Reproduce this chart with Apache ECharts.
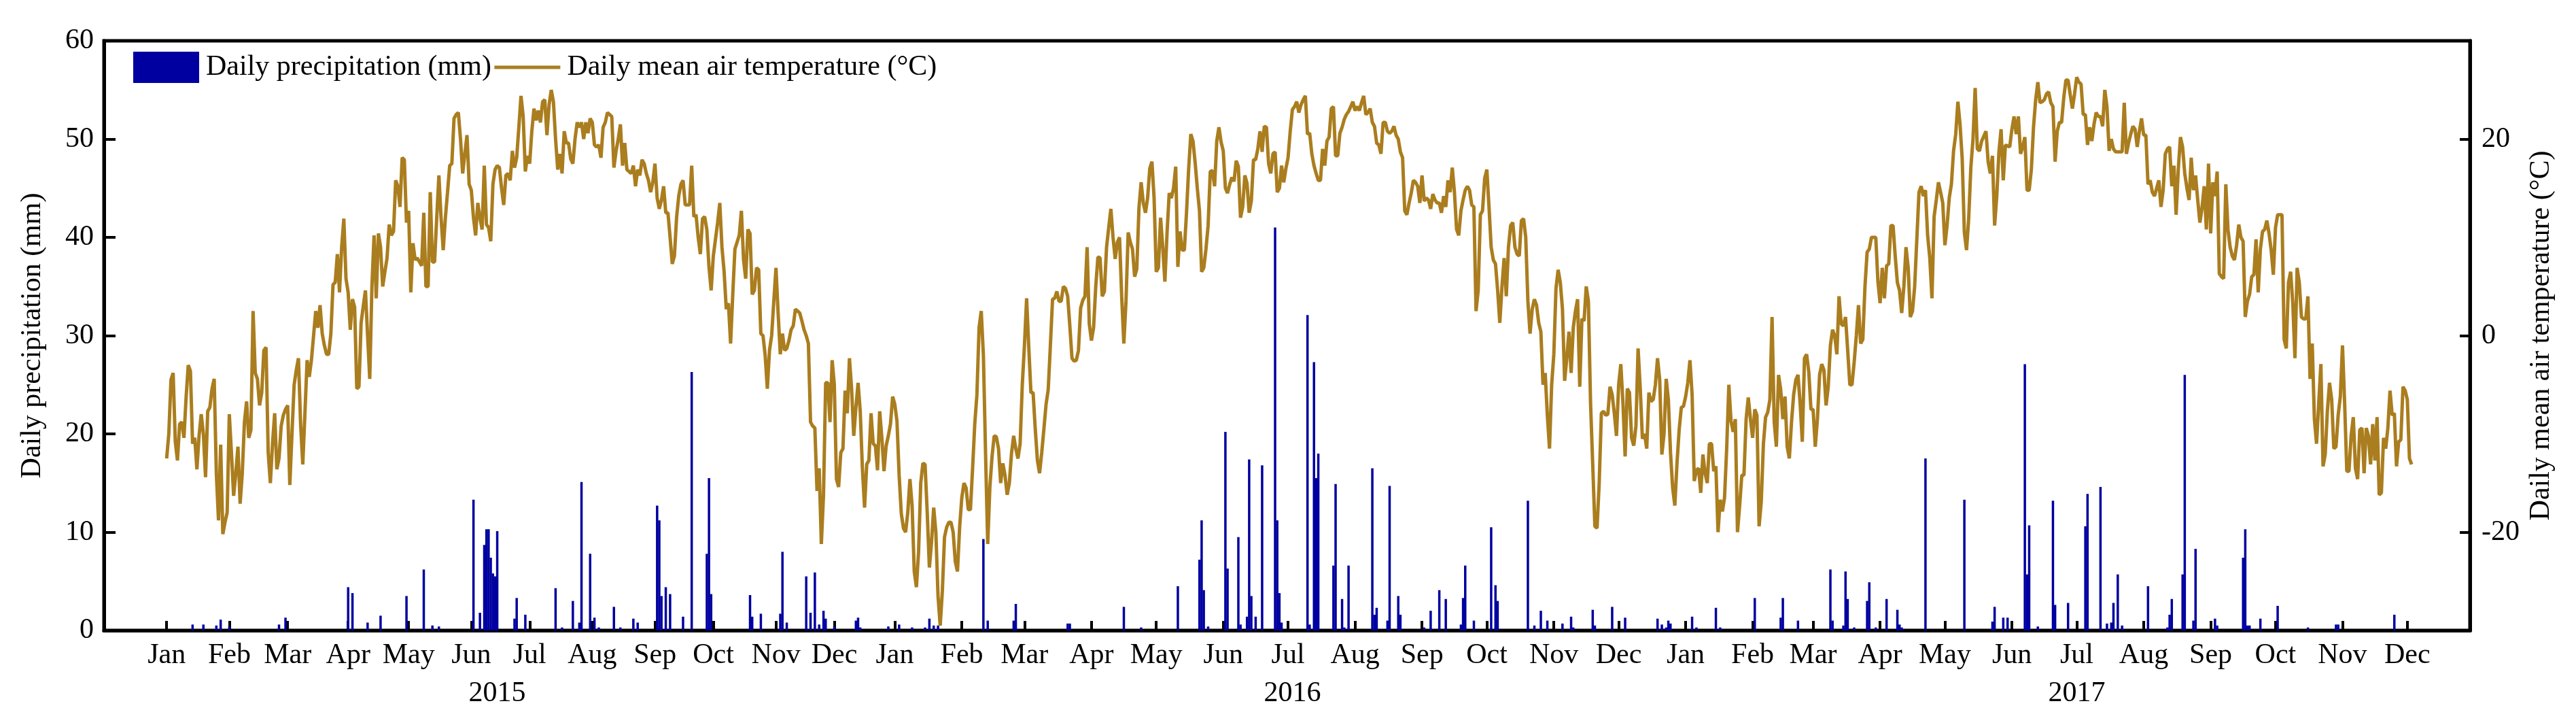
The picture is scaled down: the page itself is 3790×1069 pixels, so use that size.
<!DOCTYPE html>
<html>
<head>
<meta charset="utf-8">
<title>Daily precipitation and air temperature</title>
<script src="https://cdn.jsdelivr.net/npm/echarts@6/dist/echarts.min.js"></script>
<style>
    html, body { margin: 0; padding: 0; background: #fff; }
    #chart { width: 3790px; height: 1069px; }
</style>
</head>
<body>
<div id="chart"></div>
<script>
// observations per month (2015 record has gaps, 2017 stops early in Dec)
const monthNames = ['Jan', 'Feb', 'Mar', 'Apr', 'May', 'Jun', 'Jul', 'Aug', 'Sep', 'Oct', 'Nov', 'Dec'];
const obsPerMonth2015 = [29, 27, 28, 28, 29, 27, 29, 29, 27, 29, 27, 28];
const obsPerMonth2016 = [31, 29, 31, 30, 31, 30, 31, 31, 30, 31, 30, 31];
const obsPerMonth2017 = [31, 28, 31, 30, 31, 30, 31, 31, 30, 31, 30, 3];

const yearNames = ['2015', '2016', '2017'];
const yearLabelAt = [153, 521, 884];

// daily mean air temperature (°C), one value per observation
const tempC = [
    -12.5, -10, -4.5, -3.8, -10.8, -12.7, -9, -8.8, -10.4, -6.3,
    -3, -3.6, -11, -10.4, -13.6, -10.2, -8, -10, -14.4, -7.7,
    -7.3, -5.4, -4.4, -14, -18.8, -11.1, -20.2, -19, -18, -8,
    -12, -16.3, -14, -11.3, -17.1, -14, -8.8, -6.7, -10.4, -9.6,
    2.5, -3.8, -4.4, -7.1, -5.8, -1.5, -1.2, -11.9, -15, -11,
    -7.9, -13.6, -12.5, -9.2, -8.1, -7.5, -7.1, -15.2, -10, -5,
    -3.5, -2.3, -9, -13.1, -7.9, -2.5, -4.2, -2.5, 0, 2.5,
    0.8, 3.1, 0.2, -1, -1.9, -1.9, 0.2, 5.2, 5.4, 8.3,
    4.4, 9, 11.9, 5.8, 4.4, 0.6, 3.7, 2.9, -5.4, -5.2,
    1.3, 3, 4.6, 0, -4.4, 5, 10.2, 3.8, 10.4, 9,
    5, 6.5, 7.9, 11.3, 10.2, 10.6, 15.8, 15.2, 13.1, 18.1,
    17.9, 11.5, 12.7, 4.4, 9.4, 7.7, 7.9, 7.5, 7.1, 12.5,
    5, 5, 14.6, 7.5, 7.5, 12, 16.3, 12, 8.7, 12,
    14.6, 17.3, 17.5, 22.1, 22.5, 22.7, 20, 16.5, 18.5, 20.4,
    15.4, 14.8, 12, 10.2, 13.5, 12, 10.8, 17.3, 11.3, 11,
    9.6, 15.4, 16.9, 17.3, 17.1, 15, 13.3, 16.3, 16.5, 15.8,
    18.8, 17.1, 18.1, 21.2, 24.4, 22.3, 16.7, 18.3, 17.5, 20.8,
    23.1, 21.9, 22.9, 21.7, 23.8, 24, 20.4, 23.5, 25, 23.8,
    20, 16.9, 18.5, 16.5, 20.8, 19.6, 19.6, 18, 17.5, 20,
    21.7, 21.2, 21.7, 20, 21.7, 20.6, 22.1, 21.7, 19.4, 19.2,
    19.4, 18.1, 21.2, 21.7, 22.7, 22.5, 22.3, 17.1, 18.8, 20,
    21.5, 17.3, 19.6, 16.9, 16.7, 16.5, 17.3, 15.2, 16.9, 16.3,
    17.9, 17.5, 16.5, 15.8, 14.6, 15.6, 17.5, 14, 12.9, 13.8,
    15.2, 12.5, 12.5, 10, 7.3, 8.1, 12, 14.2, 15.4, 15.8,
    13.3, 13.3, 13.3, 17.3, 12.1, 12.3, 10, 8.3, 11.9, 12.1,
    10.8, 7, 4.6, 8.1, 9.8, 11.5, 13.5, 9, 6.5, 2.7,
    3.3, -0.8, 4.2, 8.8, 9.5, 10.2, 12.7, 7.7, 5.8, 10.8,
    10.4, 4.2, 4.6, 6.9, 6.7, 0.2, 0, -2, -5.4, -1.5,
    0, 3.5, 6.9, 2.3, -1.9, 0.2, -1.5, -1.3, -0.5, 0.6,
    1, 2.7, 2.5, 2.3, 1.5, 0.6, 0, -0.8, -8.8, -9.2,
    -9.4, -15.8, -13.5, -21.2, -16.2, -4.8, -4.8, -8.8, -2.5, -5,
    -14.6, -15.4, -11.9, -11.5, -5.6, -7.9, -2.3, -5.4, -10.2, -7.3,
    -4.8, -7.7, -13.5, -17.5, -13.1, -12.7, -7.9, -11, -11.2, -13.7,
    -7.7, -10.4, -13.8, -11.2, -10.2, -9, -6.2, -7, -8.7, -14.2,
    -18.1, -19.6, -20, -18, -14.6, -17.3, -24, -25.6, -22, -15,
    -13, -13.1, -18, -23.6, -21, -17.5, -20, -26.5, -29.5, -26,
    -20.5, -19.5, -19, -19, -20, -23, -24, -19.5, -16.5, -15,
    -15.5, -17.7, -17.7, -13.5, -9, -6, 0.8, 2.5, -2, -12,
    -21.2, -15.4, -12.3, -10.2, -10.3, -11.5, -15, -13, -14.2, -16.2,
    -15, -12, -10.2, -11.5, -12.5, -11, -5, -1, 3.8, -1.2,
    -5.8, -5.8, -9.5, -12.7, -14, -11.9, -9.5, -7, -5.5, -1,
    3.7, 3.8, 4.5, 3.5, 3.5, 5, 4.8, 4, 1, -2.3,
    -2.6, -2.5, -1.5, 2.8, 3.6, 4, 9, 1.2, -0.5, 0.8,
    5, 8, 7.9, 4, 4.5, 9, 11, 12.9, 10, 7.8,
    9.5, 10, 4, -0.8, 3.5, 10.5, 9.5, 8.8, 6, 6.8,
    13, 15.6, 13.5, 12.5, 14, 17, 17.7, 14, 6.5, 6.9,
    12, 9, 5.5, 10.5, 14.5, 14, 15, 17.2, 7, 10.6,
    8.7, 8.7, 12.5, 17, 20.5, 19.8, 17.6, 15, 12.7, 6.5,
    6.9, 8.8, 11.2, 16.7, 16.8, 15.2, 19.8, 21.2, 19.7, 18.8,
    15, 14.5, 15.4, 16.1, 15.7, 17.8, 17.2, 12, 13.1, 16.3,
    15.5, 12.5, 13.7, 17.9, 17.9, 19, 20.8, 18.7, 21.3, 21.2,
    17.5, 16.5, 18.5, 18.7, 14.6, 15, 17.3, 15.6, 17, 18.1,
    20.8, 23, 23.3, 23.8, 22.7, 23.5, 24, 24.4, 20.5, 20.6,
    18.5, 17.3, 16.5, 15.8, 15.8, 19, 17.3, 19.8, 20.2, 23.1,
    23.3, 18.3, 18.3, 20.6, 21.2, 22, 22.5, 22.8, 23.3, 23.8,
    22.9, 23.3, 22.9, 23.7, 24.4, 22.5, 22.7, 23.1, 21.7, 21.3,
    19.6, 19.4, 18.5, 21.7, 21.7, 20.8, 20.6, 20.8, 21.3, 20.4,
    20, 18.7, 18.1, 12.7, 12.3, 13.5, 14.5, 15.8, 15.6, 15.2,
    13.5, 16.3, 13.7, 14, 13.8, 12.9, 14.4, 13.8, 13.5, 13.5,
    12.5, 14.2, 13.1, 15.8, 14.6, 17.1, 14.6, 10.8, 10.2, 12.7,
    13.8, 14.8, 15.2, 14.8, 13.3, 13.1, 2.5, 4.6, 12.3, 12.7,
    16, 16.9, 13.1, 9, 7.7, 7.3, 4.6, 1.3, 5, 7.9,
    4, 9, 11.2, 11.5, 9, 8.3, 8.1, 11.7, 11.9, 10,
    3.5, 0.2, 2.7, 3.7, 3.1, 1.3, 0.4, -5, -3.8, -8.1,
    -11.5, -5, -1.9, 4.8, 6.7, 5.4, 2.7, -4.6, -2.3, 0.4,
    -3.8, 0.8, 2.5, 3.7, -5.2, 1.7, 1.5, 5, 3.5, -6.9,
    -13.1, -19.4, -19.6, -15, -7.9, -7.7, -8.1, -8, -5.2, -6,
    -7.9, -10.2, -5, -2.9, -6.9, -12.3, -5.4, -5.8, -10.4, -11.2,
    -9.2, -1.3, -5.4, -10.5, -10, -11.5, -5.8, -6.7, -6.5, -5,
    -2.3, -4.5, -12.1, -10, -4.4, -6.5, -11.9, -15.5, -17.3, -13,
    -9.6, -7.3, -7.2, -6.2, -4.8, -2.5, -6, -14.8, -13.7, -13.5,
    -16, -12.1, -14, -15, -11, -11, -13.8, -13.3, -20, -16.7,
    -17.9, -16.5, -11.5, -5, -8.7, -9.8, -8.5, -20, -17.3, -14.2,
    -14.2, -8.5, -6.3, -8.5, -10.4, -7.5, -8.1, -19.4, -16.9, -11,
    -8.3, -7.8, -6.5, 1.9, -8.8, -11.3, -4, -5.5, -8.5, -6.2,
    -11.3, -12.5, -8.8, -6, -4.5, -4, -6.9, -10.8, -2.3, -1.9,
    -3.7, -7.5, -7.5, -11.3, -8.5, -4, -2.9, -3.5, -7.1, -5.2,
    -1, 0.6, 0, -1.9, 4, 1.2, 1, 1.9, -1.5, -5,
    -5, -2.7, 0, 3.1, -0.8, -0.4, 5, 8.5, 8.8, 10,
    10, 10, 5.5, 3.3, 6.9, 3.8, 7.1, 7.3, 11.2, 11.2,
    8.1, 5.4, 4.6, 2.3, 5, 9, 6.9, 1.9, 2.5, 5,
    9.8, 14.6, 15.2, 14.2, 14.8, 10.2, 7.9, 3.8, 12.1, 13.8,
    15.6, 14.6, 13.5, 9.2, 11.2, 14, 15.4, 18.8, 20.5, 23.8,
    21.5, 18, 10.5, 8.7, 11.9, 17.1, 20, 25.2, 19, 18.8,
    19.8, 20.3, 20.8, 17.7, 16.5, 18.3, 11.2, 14.2, 18.7, 21,
    15.8, 19.4, 19.3, 19.2, 21, 22.3, 20.5, 22.3, 18.5, 19.2,
    20.2, 14.8, 14.8, 16.9, 21.2, 24, 25.8, 23.7, 23.8, 24,
    24.6, 24.8, 23.7, 23.3, 17.7, 20.8, 21.7, 21.7, 24.2, 26,
    26, 24.5, 23.1, 24.6, 26.3, 25.8, 25.6, 22.5, 22.5, 19.4,
    21.2, 19.8, 21.5, 22.7, 22.3, 22.3, 21.3, 25, 23.3, 18.8,
    20, 19, 18.7, 18.7, 18.7, 18.7, 23.7, 18.5, 19.6, 20.5,
    21.3, 21, 19.2, 20.8, 22.1, 20.4, 20.4, 15.4, 15.8, 14.6,
    14.2, 15, 15.8, 13.1, 14.8, 18.5, 19, 19.2, 15.2, 17.3,
    12.3, 16.9, 20.2, 19.2, 16.5, 15, 13.8, 18.1, 14.8, 16.3,
    13.8, 11.5, 13, 15.2, 10.8, 17.5, 10.4, 15.6, 14.2, 16.7,
    6.3, 6, 5.8, 15.4, 10.8, 9, 8.1, 7.7, 9.2, 11.3,
    10, 9.6, 1.9, 3.5, 4.2, 6, 6.2, 9.8, 4.4, 8.8,
    10.6, 10.8, 11.7, 10.4, 8.7, 6.2, 11, 12.3, 12.3, 12.3,
    -0.4, -1.3, 5.4, 6.5, 3.3, -2.3, 6.9, 5.4, 1.9, 1.7,
    1.7, 4, -4.4, -0.8, -8.5, -11, -6.9, -2.9, -13.3, -12.1,
    -7.7, -4.8, -6.5, -11.5, -11.3, -8.1, -6.2, -1, -6.9, -13.8,
    -13.8, -10.2, -8.3, -13.5, -14.6, -9.6, -9.4, -14, -9.4, -10.2,
    -13.1, -9, -12.7, -8.3, -16.2, -16, -10.4, -11.5, -9.4, -5.6,
    -8.1, -7.9, -13.3, -10.8, -10.6, -5.2, -5.6, -6.5, -12.5, -13.1
];

// days with precipitation (observation number) and the amount (mm)
const rainDay = [
    12, 17, 23, 25, 29, 52, 55, 84, 86, 93, 99, 111, 119, 123, 126, 142, 145, 147, 148, 149,
    150, 151, 152, 153, 161, 162, 166, 180, 183, 188, 191, 192, 196, 198, 200, 207, 210, 216, 218, 227,
    228, 229, 231, 233, 239, 243, 250, 251, 252, 270, 271, 275, 284, 285, 287, 296, 298, 300, 302, 304,
    305, 309, 319, 320, 321, 334, 339, 345, 351, 353, 355, 357, 378, 380, 392, 393, 417, 418, 443, 451,
    468, 478, 479, 480, 482, 490, 491, 496, 497, 500, 501, 502, 504, 507, 513, 514, 515, 516, 528, 529,
    531, 532, 533, 540, 541, 544, 545, 547, 558, 559, 560, 565, 566, 570, 571, 582, 585, 589, 592, 599,
    600, 601, 605, 613, 615, 616, 630, 633, 636, 639, 646, 650, 651, 660, 661, 669, 675, 690, 692, 694,
    695, 696, 706, 708, 717, 719, 735, 747, 748, 755, 770, 771, 776, 777, 778, 781, 787, 788, 791, 796,
    801, 802, 803, 814, 832, 845, 846, 850, 852, 860, 861, 862, 866, 873, 874, 880, 888, 889, 895, 898,
    900, 901, 903, 905, 917, 926, 927, 928, 933, 934, 938, 939, 948, 949, 961, 962, 963, 964, 969, 977,
    991, 1004, 1005, 1031
];
const rainMm = [
    0.6, 0.6, 0.5, 1.1, 0.4, 0.6, 1.3, 4.4, 3.8, 0.8, 1.5, 3.5, 6.2, 0.5, 0.4, 13.3, 1.8, 8.7, 10.3, 10.3,
    7.4, 5.8, 5.5, 10.1, 1.2, 3.3, 1.6, 4.3, 0.3, 3, 0.8, 15.1, 7.8, 1.3, 0.3, 2.4, 0.3, 1.2, 0.8, 12.7,
    11.2, 3.5, 4.4, 3.7, 1.4, 26.3, 7.8, 15.5, 3.7, 3.6, 1.4, 1.7, 1.7, 8, 0.8, 5.5, 1.8, 5.9, 0.6, 2,
    1.2, 0.4, 1, 1.3, 0.3, 0.4, 0.6, 0.3, 0.3, 1.2, 0.5, 0.5, 9.3, 1, 1, 2.7, 0.7, 0.7, 2.4, 0.3,
    4.5, 7.2, 11.2, 4.1, 0.4, 20.2, 6.3, 9.5, 0.6, 1.4, 17.4, 3.5, 1.4, 16.8, 41, 11.2, 3.8, 0.8, 32.1, 0.6,
    27.3, 15.5, 18, 6.6, 14.9, 3.2, 0.3, 6.6, 16.5, 1.6, 2.3, 1, 14.7, 3.5, 1.6, 0.3, 2, 4.1, 3.2, 0.6,
    3.3, 6.6, 1, 10.5, 4.6, 3, 13.2, 0.5, 2, 1, 0.7, 1.4, 0.3, 2.1, 0.5, 2.4, 1.3, 1.2, 0.6, 0.3,
    1, 0.7, 1.4, 0.3, 2.3, 0.3, 3.3, 1.3, 3.3, 1, 6.2, 1, 0.5, 6, 3.2, 0.3, 3, 4.9, 0.3, 3.2,
    2.1, 0.6, 0.3, 17.5, 13.3, 0.9, 2.4, 1.3, 1.3, 27.1, 5.7, 10.7, 0.4, 13.2, 2.6, 2.8, 10.6, 13.9, 14.6, 0.7,
    0.8, 2.8, 5.7, 0.5, 4.5, 0.3, 1.6, 3.2, 5.7, 26, 1, 8.3, 1.2, 0.5, 7.4, 10.3, 0.5, 0.5, 1.2, 2.5,
    0.3, 0.6, 0.6, 1.6
];

const fontFamily = 'Liberation Serif';
const fontSize = 42;
const tempColor = '#AA7D1E';
const rainColor = '#0000A0';

// month start positions and their labels
const monthTicks = [];
const monthLabelOf = {};
[obsPerMonth2015, obsPerMonth2016, obsPerMonth2017].reduce((start, counts) => {
    counts.forEach((n, m) => {
        monthTicks.push(start);
        monthLabelOf[start] = monthNames[m];
        start += n;
    });
    return start;
}, 0);

const yearLabelOf = {};
yearLabelAt.forEach((pos, k) => { yearLabelOf[pos] = yearNames[k]; });

const textBase = { fontFamily: fontFamily, fontSize: fontSize, color: '#000' };
const axisLineStyle = { show: true, onZero: false, lineStyle: { color: '#000', width: 5 } };
const tickLine = { color: '#000', width: 4 };

document.addEventListener('DOMContentLoaded', () => {
    const chart = echarts.init(document.getElementById('chart'), null, { renderer: 'canvas' });
    const option = {
        animation: false,
        backgroundColor: '#fff',
        grid: {
            left: 153, right: 156, top: 60, bottom: 142,
            show: true, borderColor: '#000', borderWidth: 5
        },
        legend: {
            left: 191, top: 71,
            itemWidth: 97, itemHeight: 46, itemGap: 2,
            textStyle: Object.assign({ padding: [0, 0, 0, 5] }, textBase),
            data: [
                { name: 'Daily precipitation (mm)', icon: 'rect' },
                {
                    name: 'Daily mean air temperature (°C)',
                    itemStyle: { color: 'rgba(0,0,0,0)', borderWidth: 0, opacity: 0 },
                    lineStyle: { color: tempColor, width: 5 }
                }
            ]
        },
        xAxis: [
            {
                type: 'value', min: -29, max: 1066,
                axisLine: axisLineStyle,
                splitLine: { show: false },
                axisTick: {
                    show: true, inside: true, length: 14,
                    customValues: monthTicks,
                    lineStyle: tickLine
                },
                axisLabel: Object.assign({
                    margin: 16,
                    customValues: monthTicks,
                    formatter: v => monthLabelOf[v] || ''
                }, textBase)
            },
            {
                type: 'value', min: -29, max: 1066,
                position: 'bottom', offset: 56,
                axisLine: { show: false },
                axisTick: { show: false },
                splitLine: { show: false },
                axisLabel: Object.assign({
                    margin: 16,
                    customValues: yearLabelAt,
                    formatter: v => yearLabelOf[v] || ''
                }, textBase)
            }
        ],
        yAxis: [
            {
                type: 'value', min: 0, max: 60, interval: 10,
                position: 'left',
                name: 'Daily precipitation (mm)',
                nameLocation: 'middle', nameRotate: 90, nameGap: 84,
                nameTextStyle: textBase,
                axisLine: axisLineStyle,
                splitLine: { show: false },
                axisTick: { show: true, inside: true, length: 17, lineStyle: tickLine },
                axisLabel: Object.assign({ margin: 15 }, textBase)
            },
            {
                type: 'value', min: -30, max: 30,
                position: 'right',
                name: 'Daily mean air temperature (°C)',
                nameLocation: 'middle', nameRotate: 90, nameGap: 70,
                nameTextStyle: textBase,
                axisLine: axisLineStyle,
                splitLine: { show: false },
                axisTick: {
                    show: true, inside: true, length: 15,
                    customValues: [-20, 0, 20],
                    lineStyle: tickLine
                },
                axisLabel: Object.assign({ margin: 17, customValues: [-20, 0, 20] }, textBase)
            }
        ],
        series: [
            {
                name: 'Daily precipitation (mm)',
                type: 'bar',
                xAxisIndex: 0, yAxisIndex: 0,
                barWidth: 3.5,
                itemStyle: { color: rainColor },
                data: rainDay.map((d, k) => [d, rainMm[k]])
            },
            {
                name: 'Daily mean air temperature (°C)',
                type: 'line',
                xAxisIndex: 0, yAxisIndex: 1,
                symbol: 'none',
                z: 3,
                lineStyle: { color: tempColor, width: 5 },
                itemStyle: { color: tempColor },
                data: tempC.map((t, i) => [i, t])
            }
        ]
    };
    chart.setOption(option);
});
</script>
</body>
</html>
